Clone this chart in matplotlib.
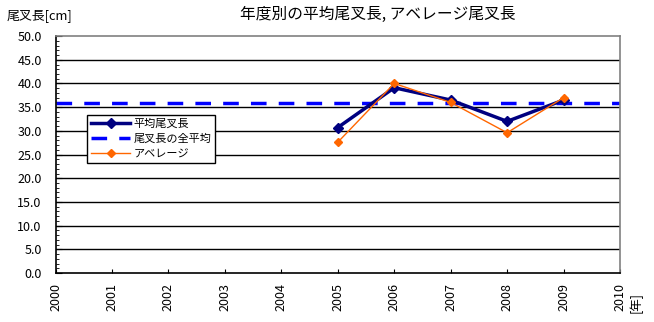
import numpy as np
import matplotlib.pyplot as plt
from matplotlib.ticker import MultipleLocator, FormatStrFormatter

plt.rcParams['font.family'] = ['Noto Sans CJK JP', 'DejaVu Sans']

years = [2005, 2006, 2007, 2008, 2009]
mean_fork = [30.7, 39.1, 36.5, 32.0, 36.5]
average_fork = [27.6, 40.0, 36.0, 29.6, 37.0]
overall_mean = 35.9
year_ticks = list(range(2000, 2011))

fig = plt.figure(figsize=(6.54, 3.22), dpi=100)
ax = fig.add_axes([0.085, 0.152, 0.863, 0.736])

for v in np.arange(5, 50, 5):
    ax.axhline(v, color='black', lw=1.0, zorder=1)

ax.axhline(overall_mean, color='#0000FF', lw=2.5, ls=(0, (4.5, 3.5)), zorder=2,
           label='尾叉長の全平均')
ax.plot(years, mean_fork, color='#000080', lw=2.5, marker='D', ms=5.5,
        zorder=3, label='平均尾叉長')
ax.plot(years, average_fork, color='#FF6600', lw=1.0, marker='D', ms=4,
        zorder=4, label='アベレージ')

ax.set_xlim(2000, 2010)
ax.set_ylim(0, 50)
ax.set_xticks(year_ticks)
ax.set_xticklabels([str(y) for y in year_ticks], rotation=90, fontsize=9)
ax.yaxis.set_major_locator(MultipleLocator(5))
ax.yaxis.set_minor_locator(MultipleLocator(1))
ax.yaxis.set_major_formatter(FormatStrFormatter('%.1f'))
ax.tick_params(axis='y', which='major', direction='in', length=4, pad=10,
               labelsize=9)
ax.tick_params(axis='y', which='minor', direction='in', length=2)
ax.tick_params(axis='x', direction='in', length=3, pad=7)

for s in ['top', 'right']:
    ax.spines[s].set_color('#808080')
    ax.spines[s].set_linewidth(1.2)
for s in ['left', 'bottom']:
    ax.spines[s].set_color('black')
    ax.spines[s].set_linewidth(1.2)

h, l = ax.get_legend_handles_labels()
order = [1, 0, 2]
leg = ax.legend([h[i] for i in order], [l[i] for i in order],
                loc='upper left', bbox_to_anchor=(0.056, 0.668),
                fontsize=8, frameon=True, fancybox=False, edgecolor='black',
                framealpha=1, borderpad=0.35, labelspacing=0.45,
                handlelength=3.5, handletextpad=0.3, borderaxespad=0)
leg.get_frame().set_linewidth(1.0)

fig.text(0.577, 0.955, '年度別の平均尾叉長, アベレージ尾叉長', ha='center', va='center',
         fontsize=11.3)
fig.text(0.01, 0.948, '尾叉長[cm]', ha='left', va='center', fontsize=9.3)
fig.text(0.962, 0.06, '[年]', ha='left', va='center', fontsize=9, rotation=90)

fig.savefig('out.png', dpi=100, facecolor='white')
